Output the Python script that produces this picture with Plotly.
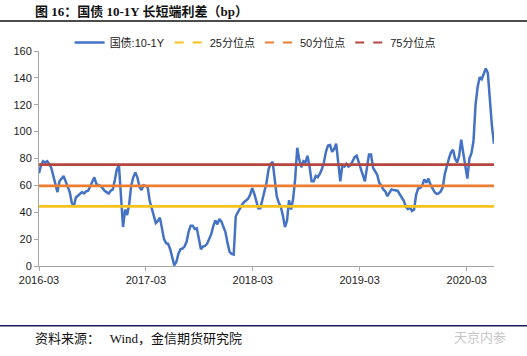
import pandas as pd
import plotly.graph_objects as go

# ---- data ----
start_date = "2016-03-01"
spread_bp = [
    69, 75, 78, 77, 78, 76, 73, 67, 61, 55, 63, 65, 67, 63, 58.5, 55, 47, 44.5, 51, 52.5,
    53.6, 55, 54, 55.5, 56, 59, 63, 66, 61, 60.5, 59.5, 58, 56, 55, 54, 56, 57, 64, 72, 75,
    50, 29, 42, 38, 46, 60, 66, 69.5, 66, 59, 56.5, 60, 59.5, 59, 48.5, 42.5, 38, 32, 33.5, 36,
    28, 20, 17, 16.5, 12.5, 7, 0.5, 3, 9, 12.5, 13, 14.5, 18, 25.5, 30, 30, 27.5, 28, 20, 12.5,
    14.5, 15, 16.5, 20, 23.5, 29.5, 34, 31, 35, 33, 28.5, 25, 17, 10.5, 9, 8.5, 37, 40, 42.5, 45.5,
    47.5, 48.5, 50, 53, 58, 54, 48.5, 43, 43, 49, 55.5, 62, 72, 76, 77.5, 66, 52, 47, 44, 37.4,
    29, 33.6, 49, 42, 50, 65, 88, 79, 73.5, 78, 77, 82, 74, 63, 63, 67, 66, 68.5, 72, 77,
    85, 89.7, 90, 85, 87, 91, 75, 63, 75, 74, 76, 74, 75, 78, 81, 82, 77, 72, 68.5, 63,
    73, 83, 83, 73, 70.5, 68, 62, 60, 57, 55.5, 52, 55, 57, 56.5, 56, 56, 53.4, 50.5, 48.5, 44,
    42.3, 43.5, 41, 42, 53, 57.8, 58, 60, 64.5, 62, 65, 60.5, 58, 55, 53.6, 54, 55.5, 58.5, 68.5, 75.5,
    80, 84.5, 86.5, 80, 77, 82, 94, 84, 75, 65, 80, 84, 93, 120, 133, 140.5, 139, 143, 147, 143.6,
    121, 104, 91,
]
dates = pd.date_range(start_date, periods=len(spread_bp), freq="7D")

q25, q50, q75 = 44.3, 59.6, 75.5
tick_dates = ["2016-03-01", "2017-03-01", "2018-03-01", "2019-03-01", "2020-03-01"]
tick_text = ["2016-03", "2017-03", "2018-03", "2019-03", "2020-03"]
y_ticks = [0, 20, 40, 60, 80, 100, 120, 140, 160]

series_name = "国债:10-1Y"
q_names = ["25分位点", "50分位点", "75分位点"]
q_vals = [q25, q50, q75]
q_colors = ["#F7C21B", "#ED7D31", "#B5453F"]
blue = "#4472C4"

x0, x1 = dates[0], dates[-1]

fig = go.Figure()
fig.add_trace(go.Scatter(x=list(dates), y=spread_bp, mode="lines", name=series_name,
                         line=dict(color=blue, width=2.5), showlegend=True))
for nm, v, c in zip(q_names, q_vals, q_colors):
    fig.add_trace(go.Scatter(x=[x0, x1], y=[v, v], mode="lines", name=nm,
                             line=dict(color=c, width=2.8), showlegend=False))
    fig.add_trace(go.Scatter(x=[None], y=[None], mode="lines", name=nm,
                             line=dict(color=c, width=2, dash="dash"), showlegend=True))

axis_col = "#A6A6A6"
font_main = "Liberation Sans, Arial, Noto Sans CJK SC, sans-serif"
fig.update_layout(
    width=527, height=356,
    margin=dict(l=39, r=33, t=51, b=90, pad=0),
    paper_bgcolor="white", plot_bgcolor="white",
    font=dict(family=font_main, size=11, color="#222222"),
    showlegend=True,
    legend=dict(orientation="h", x=0.475, xanchor="center", y=1.04, yanchor="middle",
                font=dict(size=11, family="Liberation Sans, Noto Sans CJK SC, sans-serif"),
                bgcolor="rgba(0,0,0,0)", itemwidth=30, tracegroupgap=0),
    xaxis=dict(type="date", range=[x0, x1], tickvals=tick_dates, ticktext=tick_text,
               showgrid=False, zeroline=False, showline=True, linecolor=axis_col, linewidth=1,
               ticks="outside", ticklen=4, tickcolor=axis_col, tickfont=dict(size=11)),
    yaxis=dict(range=[0, 160], tickvals=y_ticks, showgrid=False, zeroline=False,
               showline=True, linecolor=axis_col, linewidth=1, ticks="outside", ticklen=4,
               tickcolor=axis_col, tickfont=dict(size=11)),
)

# title, rules, footer
fig.add_annotation(xref="paper", yref="paper", x=-0.0139, y=1.185, xanchor="left", yanchor="middle",
                   text="<b>图 16：国债 10-1Y 长短端利差（bp）</b>", showarrow=False,
                   font=dict(size=13, color="#111111", family="Liberation Serif, Noto Sans CJK SC, serif"))
fig.add_shape(type="line", xref="paper", yref="paper", x0=-0.09, x1=1.08, y0=1.14, y1=1.14,
              line=dict(color="#111111", width=1.5))
fig.add_shape(type="line", xref="paper", yref="paper", x0=-0.09, x1=1.08, y0=-0.278, y1=-0.278,
              line=dict(color="#1B1B5A", width=1.5))
fig.add_annotation(xref="paper", yref="paper", x=-0.0139, y=-0.339, xanchor="left", yanchor="middle",
                   text="资料来源：   Wind，金信期货研究院", showarrow=False,
                   font=dict(size=13, color="#111111", family="Liberation Serif, Noto Sans CJK SC, serif"))
fig.add_annotation(xref="paper", yref="paper", x=0.969, y=-0.327, xanchor="center", yanchor="middle",
                   text="天京内参", showarrow=False,
                   font=dict(size=13, color="#C8C8C8", family="Noto Sans CJK SC, sans-serif"))

fig.write_html("out.html", config={"displayModeBar": False},
               post_script="document.body.style.margin='0';document.body.style.overflow='hidden';")
